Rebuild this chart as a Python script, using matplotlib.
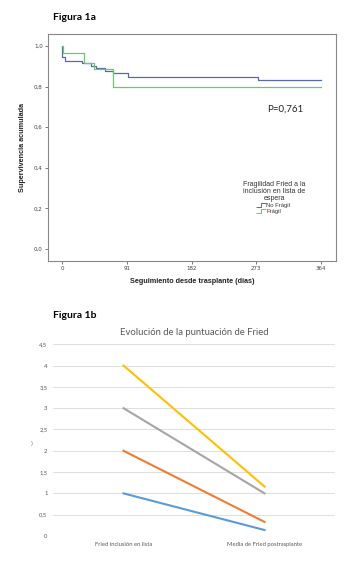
# %%
# Figura 1a (Kaplan-Meier) y Figura 1b (evolución Fried)
import numpy as np
import matplotlib
matplotlib.use('Agg')
import matplotlib.pyplot as plt
from matplotlib.path import Path
from matplotlib.lines import Line2D
from matplotlib.ticker import FuncFormatter

# %%
# Datos figura 1a
t_no_fragil = [0, 0, 4, 28, 41, 48, 60, 71, 93, 276, 364]
s_no_fragil = [1.0, 0.948, 0.928, 0.916, 0.902, 0.891, 0.879, 0.867, 0.848, 0.831, 0.831]
t_fragil = [0, 1.5, 31, 44, 72, 364]
s_fragil = [1.0, 0.967, 0.916, 0.886, 0.80, 0.80]
km_xticks = [0, 91, 182, 273, 364]
km_yticks = [0.0, 0.2, 0.4, 0.6, 0.8, 1.0]

# Datos figura 1b
categorias = ['Fried inclusión en lista', 'Media de Fried postrasplante']
serie1 = [1, 0.14]
serie2 = [2, 0.33]
serie3 = [3, 1.0]
serie4 = [4, 1.16]
fried_yticks = [0, 0.5, 1, 1.5, 2, 2.5, 3, 3.5, 4, 4.5]

coma = FuncFormatter(lambda v, p: ('%g' % v).replace('.', ','))

fig = plt.figure(figsize=(3.57, 5.67), dpi=100)

# %%
# Figura 1a
ax1 = fig.add_axes([0.1353, 0.5402, 0.806, 0.3993])
azul = '#5a68a8'
verde = '#5fd065'
ax1.step(t_no_fragil, s_no_fragil, where='post', color=azul, lw=0.9)
ax1.step(t_fragil, s_fragil, where='post', color=verde, lw=0.9)
ax1.set_xlim(-19.7, 385.5)
ax1.set_ylim(-0.058, 1.058)
ax1.set_xticks(km_xticks)
ax1.set_yticks(km_yticks)
ax1.yaxis.set_major_formatter(FuncFormatter(lambda v, p: ('%.1f' % v).replace('.', ',')))
ax1.tick_params(labelsize=4, colors='#444444', length=2, width=0.5, pad=2)
for s in ax1.spines.values():
    s.set_color('#888888')
    s.set_linewidth(0.8)
ax1.set_xlabel('Seguimiento desde trasplante (días)', family='Liberation Sans',
               fontweight='bold', fontsize=5.2, color='#222222', labelpad=5)
ax1.set_ylabel('Supervivencia acumulada', family='Liberation Sans',
               fontweight='bold', fontsize=5.2, color='#222222', labelpad=6)
ax1.text(0.76, 0.67, 'P=0,761', transform=ax1.transAxes, family='Lato',
         fontsize=7, color='#222222', va='center')

paso = Path([(-1, -0.5), (0, -0.5), (0, 0.5), (1, 0.5)],
            [Path.MOVETO, Path.LINETO, Path.LINETO, Path.LINETO])
handles = [Line2D([], [], color=azul, marker=paso, linestyle='none', markersize=7,
                  markerfacecolor='none', markeredgewidth=0.7),
           Line2D([], [], color=verde, marker=paso, linestyle='none', markersize=7,
                  markerfacecolor='none', markeredgewidth=0.7)]
leg = ax1.legend(handles, ['No Frágil', 'Frágil'],
                 title='Fragilidad Fried a la\ninclusión en lista de\nespera',
                 loc='center', bbox_to_anchor=(0.785, 0.28), frameon=False,
                 prop={'family': 'Liberation Sans', 'size': 4.2},
                 title_fontproperties={'family': 'Liberation Sans', 'size': 5},
                 handlelength=1.0, handletextpad=0.35, labelspacing=0.15)
leg.get_title().set_multialignment('center')
leg.get_title().set_linespacing(1.0)
leg.get_title().set_color('#333333')
for t in leg.get_texts():
    t.set_color('#333333')

fig.text(53 / 357, 1 - 18 / 567, 'Figura 1a', family='Lato', fontweight='bold',
         fontsize=7.5, va='center')

# %%
# Figura 1b
ax2 = fig.add_axes([0.1485, 0.0547, 0.790, 0.3381])
x = np.arange(len(categorias))
ax2.plot(x, serie1, color='#5B9BD5', lw=1.5)
ax2.plot(x, serie2, color='#ED7D31', lw=1.5)
ax2.plot(x, serie3, color='#A5A5A5', lw=1.5)
ax2.plot(x, serie4, color='#FFC000', lw=1.5)
ax2.set_xlim(-0.5, 1.5)
ax2.set_ylim(0, 4.5)
ax2.set_yticks(fried_yticks)
ax2.yaxis.set_major_formatter(coma)
ax2.set_xticks(x)
ax2.set_xticklabels(categorias)
ax2.grid(axis='y', color='#D9D9D9', lw=0.6)
ax2.set_axisbelow(True)
for s in ax2.spines.values():
    s.set_visible(False)
ax2.tick_params(length=0, labelsize=4.2, colors='#595959', pad=4)
for lab in ax2.get_xticklabels() + ax2.get_yticklabels():
    lab.set_family('Lato')
ax2.set_title('Evolución de la puntuación de Fried', family='Lato', fontsize=6.8,
              color='#595959', pad=7)
ax2.text(-0.077, 0.48, ')', transform=ax2.transAxes, fontsize=3.5, color='#595959',
         ha='center', va='center')

fig.text(53 / 357, 1 - 316 / 567, 'Figura 1b', family='Lato', fontweight='bold',
         fontsize=7.5, va='center')

fig.savefig('out.png', dpi=100)
